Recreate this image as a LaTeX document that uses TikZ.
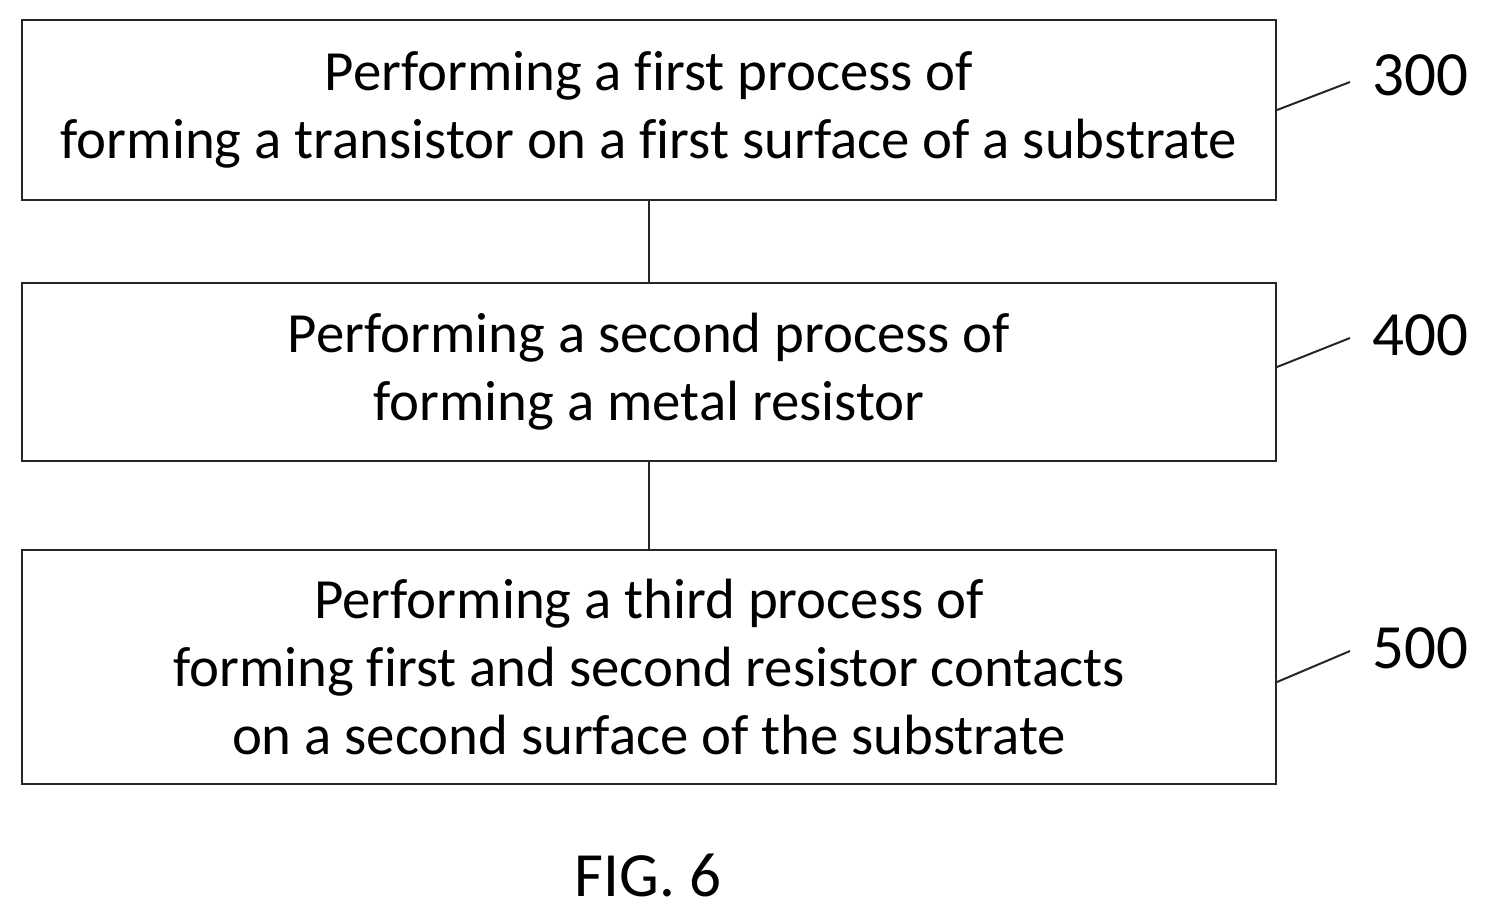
\documentclass[tikz,border=0pt]{standalone}
\usepackage{fontspec}
\setmainfont[Ligatures=NoCommon]{Carlito}
\begin{document}
\begin{tikzpicture}[x=0.5pt,y=-0.5pt,
  stepbox/.style={draw=black!85,line width=1pt,minimum width=627pt,inner sep=0pt,align=center,font=\fontsize{28.4}{34}\selectfont},
  lbl/.style={font=\fontsize{31.5}{36}\selectfont},
  lead/.style={draw=black!85,line width=1pt}]
\useasboundingbox (0,0) rectangle (1487,915);
\node[stepbox,minimum height=90pt] (b1) at (649,110) {Performing a first process of\\forming a transistor on a first surface of a substrate};
\node[stepbox,minimum height=89pt] (b2) at (649,372) {Performing a second process of\\forming a metal resistor};
\node[stepbox,minimum height=117pt] (b3) at (649,667) {Performing a third process of\\forming first and second resistor contacts\\on a second surface of the substrate};
\draw[lead] (b1.south) -- (b2.north);
\draw[lead] (b2.south) -- (b3.north);
\node[lbl] (l1) at (1420,75) {300};
\node[lbl] (l2) at (1420,335) {400};
\node[lbl] (l3) at (1420,648) {500};
\coordinate (c1) at (1350,82); \coordinate (c2) at (1350,338); \coordinate (c3) at (1350,651);
\draw[lead] (b1.east |- 0,110) -- (c1);
\draw[lead] (b2.east |- 0,367) -- (c2);
\draw[lead] (b3.east |- 0,682) -- (c3);
\node[lbl] (fig) at (648,875) {FIG. 6};
\end{tikzpicture}
\end{document}
